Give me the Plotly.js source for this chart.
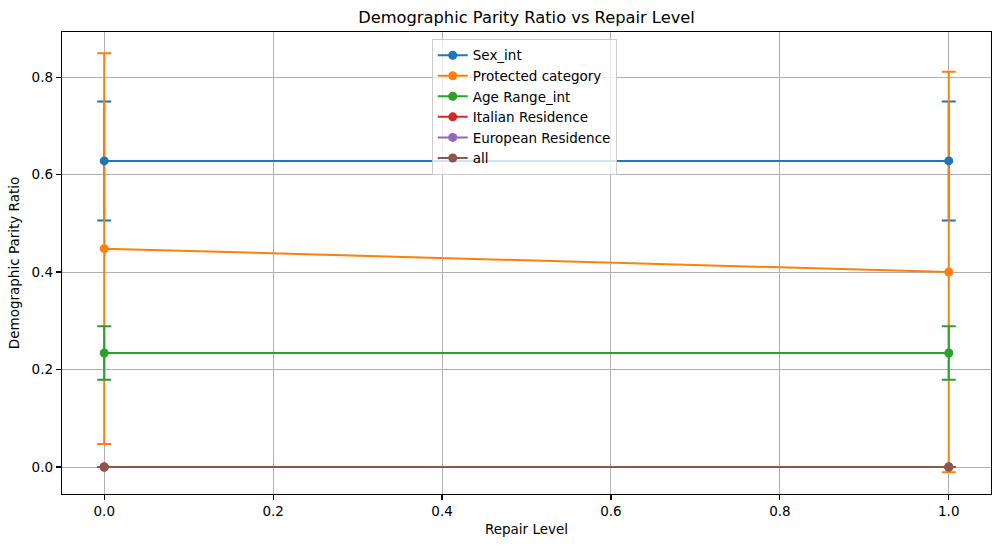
<!DOCTYPE html>
<html>
<head>
<meta charset="utf-8">
<script src="https://cdn.plot.ly/plotly-3.0.1.min.js"></script>
<style>
  html, body { margin: 0; padding: 0; background: #ffffff; }
  #chart { width: 1001px; height: 547px; }
</style>
</head>
<body>
<div id="chart"></div>
<script>
// Repair levels evaluated
const repairLevels = [0.0, 1.0];

// Mean demographic parity ratio per protected attribute, with standard deviation
const sexInt = [0.628, 0.628];
const sexIntErr = [0.122, 0.122];

const protectedCategory = [0.448, 0.400];
const protectedCategoryErr = [0.401, 0.411];

const ageRangeInt = [0.234, 0.234];
const ageRangeIntErr = [0.055, 0.055];

const italianResidence = [0.0, 0.0];
const italianResidenceErr = [0.0, 0.0];

const europeanResidence = [0.0, 0.0];
const europeanResidenceErr = [0.0, 0.0];

const allAttributes = [0.0, 0.0];
const allAttributesErr = [0.0, 0.0];

const seriesNames = ["Sex_int", "Protected category", "Age Range_int",
                     "Italian Residence", "European Residence", "all"];
const seriesValues = [sexInt, protectedCategory, ageRangeInt,
                      italianResidence, europeanResidence, allAttributes];
const seriesErrors = [sexIntErr, protectedCategoryErr, ageRangeIntErr,
                      italianResidenceErr, europeanResidenceErr, allAttributesErr];
const palette = ["#1f77b4", "#ff7f0e", "#2ca02c", "#d62728", "#9467bd", "#8c564b"];

const font = "DejaVu Sans, sans-serif";
const labelSize = 13.5;

// Error bars sit underneath every line and marker, so they get their own layer first
const errorTraces = seriesNames.map((name, i) => ({
  type: "scatter",
  mode: "markers",
  name: name,
  showlegend: false,
  hoverinfo: "skip",
  x: repairLevels,
  y: seriesValues[i],
  marker: { color: palette[i], size: 1, opacity: 0 },
  error_y: {
    type: "data",
    array: seriesErrors[i],
    visible: true,
    color: palette[i],
    thickness: 2,
    width: 7
  }
}));

const lineTraces = seriesNames.map((name, i) => ({
  type: "scatter",
  mode: "lines+markers",
  name: name,
  x: repairLevels,
  y: seriesValues[i],
  line: { color: palette[i], width: 2 },
  marker: { color: palette[i], size: 9 }
}));

const axisCommon = {
  showline: true,
  linecolor: "#000000",
  linewidth: 1.2,
  mirror: true,
  ticks: "outside",
  ticklen: 5,
  tickwidth: 1.1,
  tickcolor: "#000000",
  showgrid: true,
  gridcolor: "#b0b0b0",
  gridwidth: 1,
  zeroline: false,
  tickfont: { family: font, size: labelSize, color: "#000000" }
};

const layout = {
  width: 1001,
  height: 547,
  margin: { l: 62, r: 10, t: 32, b: 53 },
  paper_bgcolor: "#ffffff",
  plot_bgcolor: "#ffffff",
  title: {
    text: "Demographic Parity Ratio vs Repair Level",
    font: { family: font, size: 16.3, color: "#000000" },
    x: 0.5,
    xref: "paper",
    y: 1 - 17 / 547,
    yref: "container",
    yanchor: "middle"
  },
  xaxis: Object.assign({}, axisCommon, {
    range: [-0.05, 1.05],
    tickvals: [0, 0.2, 0.4, 0.6, 0.8, 1.0],
    tickformat: ".1f",
    title: { text: "Repair Level", font: { family: font, size: labelSize, color: "#000000" }, standoff: 6 }
  }),
  yaxis: Object.assign({}, axisCommon, {
    range: [-0.0554, 0.8925],
    tickvals: [0, 0.2, 0.4, 0.6, 0.8],
    tickformat: ".1f",
    title: { text: "Demographic Parity Ratio", font: { family: font, size: labelSize, color: "#000000" }, standoff: 8 }
  }),
  showlegend: true,
  legend: {
    x: 0.398,
    y: 0.985,
    xanchor: "left",
    yanchor: "top",
    bgcolor: "rgba(255,255,255,0.8)",
    bordercolor: "#cccccc",
    borderwidth: 1,
    font: { family: font, size: labelSize, color: "#000000" },
    itemwidth: 30
  }
};

Plotly.newPlot("chart", errorTraces.concat(lineTraces), layout, { displayModeBar: false, staticPlot: true });
</script>
</body>
</html>
